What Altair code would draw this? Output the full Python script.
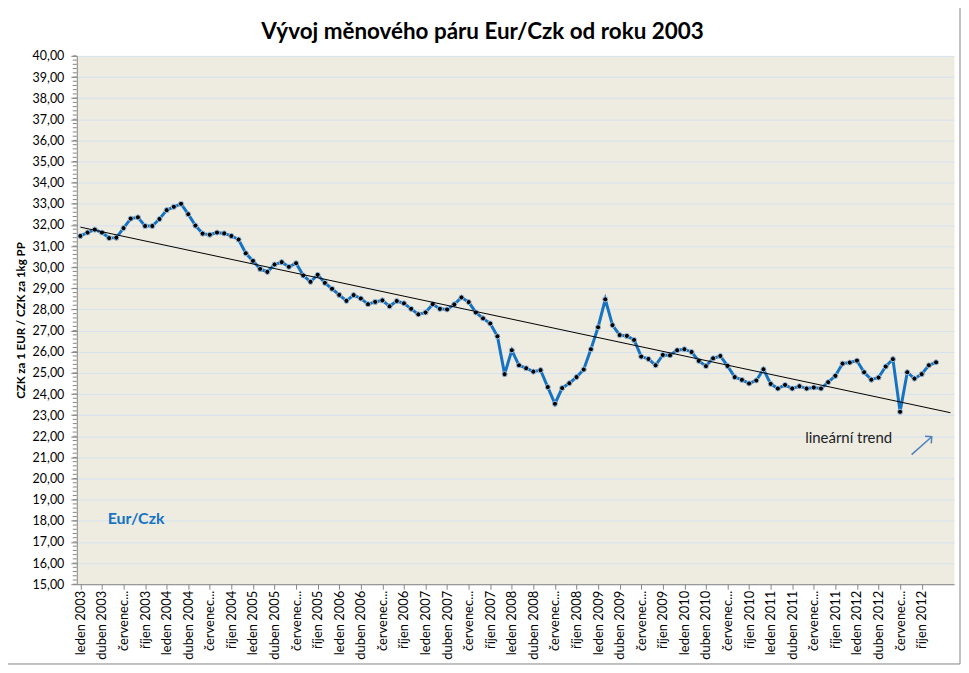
import json
import altair as alt
import pandas as pd

# ---- data ----
eur_czk = [
    31.48, 31.64, 31.78, 31.64, 31.38, 31.40, 31.85, 32.30, 32.36, 31.95, 31.95, 32.28,
    32.70, 32.86, 33.00, 32.51, 31.97, 31.59, 31.54, 31.64, 31.60, 31.48, 31.31, 30.66,
    30.30, 29.92, 29.78, 30.13, 30.24, 30.02, 30.19, 29.61, 29.31, 29.64, 29.26, 28.98,
    28.69, 28.41, 28.68, 28.52, 28.25, 28.36, 28.43, 28.15, 28.40, 28.29, 28.03, 27.77,
    27.86, 28.25, 28.03, 28.00, 28.24, 28.57, 28.35, 27.86, 27.58, 27.34, 26.73, 24.94,
    26.07, 25.36, 25.22, 25.06, 25.13, 24.33, 23.54, 24.28, 24.51, 24.80, 25.16, 26.12,
    27.16, 28.48, 27.26, 26.79, 26.75, 26.56, 25.77, 25.66, 25.36, 25.85, 25.83, 26.07,
    26.12, 25.99, 25.57, 25.32, 25.69, 25.80, 25.33, 24.80, 24.67, 24.50, 24.64, 25.17,
    24.48, 24.26, 24.43, 24.26, 24.37, 24.26, 24.31, 24.26, 24.56, 24.86, 25.44, 25.49,
    25.58, 25.03, 24.68, 24.78, 25.30, 25.65, 23.16, 25.03, 24.73, 24.94, 25.36, 25.50,
]

tick_labels = [
    "leden 2003", "duben 2003", "červenec...", "říjen 2003",
    "leden 2004", "duben 2004", "červenec...", "říjen 2004",
    "leden 2005", "duben 2005", "červenec...", "říjen 2005",
    "leden 2006", "duben 2006", "červenec...", "říjen 2006",
    "leden 2007", "duben 2007", "červenec...", "říjen 2007",
    "leden 2008", "duben 2008", "červenec...", "říjen 2008",
    "leden 2009", "duben 2009", "červenec...", "říjen 2009",
    "leden 2010", "duben 2010", "červenec...", "říjen 2010",
    "leden 2011", "duben 2011", "červenec...", "říjen 2011",
    "leden 2012", "duben 2012", "červenec...", "říjen 2012",
]
x_tick_values = [3 * k for k in range(len(tick_labels))]
y_tick_values = list(range(15, 41))
y_minor_ticks = [round(15 + 0.2 * k, 1) for k in range(126)]

title_text = "Vývoj měnového páru Eur/Czk od roku 2003"
y_title = "CZK za 1 EUR / CZK za 1kg PP"

annotations = pd.DataFrame({
    "i": [3.8, 100.8],
    "v": [18.1, 21.93],
    "label": ["Eur/Czk", "lineární trend"],
    "kind": ["series", "trend"],
})
arrow = pd.DataFrame({"i": [115.6], "v": [21.13], "i2": [118.4], "v2": [21.98]})

# ---- chart ----
FONT = "Lato"
W, H = 880, 530
df = pd.DataFrame({"i": list(range(len(eur_czk))), "v": eur_czk})

xscale = alt.Scale(domain=[-0.5, 121.5], nice=False, zero=False)
yscale = alt.Scale(domain=[15, 40], nice=False, zero=False)

label_expr = json.dumps(tick_labels, ensure_ascii=False) + "[round(datum.value/3)]"

x_axis = alt.Axis(
    values=x_tick_values, labelExpr=label_expr, labelAngle=270, labelAlign="right",
    labelBaseline="middle", labelFontSize=13, labelFont=FONT, labelColor="black",
    labelPadding=1, tickSize=5, tickColor="#868686", domainColor="#868686",
    grid=False, title=None, labelOverlap=False, labelFlush=False,
)
y_axis = alt.Axis(
    values=y_tick_values, labelExpr="replace(format(datum.value, '.2f'), '.', ',')",
    labelFontSize=12.5, labelFont=FONT, labelColor="black", labelPadding=7,
    labelOverlap=False, labelFlush=False,
    tickSize=6, tickColor="#868686", domainColor="#868686",
    grid=True, gridColor="#D5E2F0", gridWidth=1,
    title=y_title, titleFont=FONT, titleFontSize=11.5, titleFontWeight="bold",
    titleColor="black", titlePadding=6,
)

X = alt.X("i:Q", scale=xscale, axis=x_axis)
Y = alt.Y("v:Q", scale=yscale, axis=y_axis)

base = alt.Chart(df)

line = base.mark_line(color="#1673C2", strokeWidth=3).encode(x=X, y=Y)
points = base.mark_circle(size=26, color="black", opacity=1, stroke="#9DC3E6",
                          strokeWidth=1).encode(x=X, y=Y)
trend = base.transform_regression("i", "v", extent=[0, 121]).mark_line(
    color="black", strokeWidth=1).encode(x=X, y=Y)

minor = alt.Chart(pd.DataFrame({"v": y_minor_ticks})).mark_rule(
    color="#868686", strokeWidth=1).encode(
    y=Y, x=alt.value(-4), x2=alt.value(0),
)

ann = alt.Chart(annotations)
series_lbl = ann.transform_filter("datum.kind == 'series'").mark_text(
    align="left", baseline="middle", font=FONT, fontSize=16, fontWeight="bold",
    color="#1673C2").encode(x=X, y=Y, text="label:N")
trend_lbl = ann.transform_filter("datum.kind == 'trend'").mark_text(
    align="left", baseline="middle", font=FONT, fontSize=15, color="#222222").encode(
    x=X, y=Y, text="label:N")

arrow_line = alt.Chart(arrow).mark_rule(color="#4F81BD", strokeWidth=1.5).encode(
    x=X, y=Y, x2="i2:Q", y2="v2:Q")
arrow_head = alt.Chart(arrow).mark_point(
    shape="M-1,1L0,0L1,1", size=90, filled=False, color="#4F81BD", strokeWidth=1.5,
    angle=49, opacity=1).encode(
    x=alt.X("i2:Q", scale=xscale, axis=x_axis), y=alt.Y("v2:Q", scale=yscale, axis=y_axis))

frame = alt.Chart(pd.DataFrame({"a": [0]})).mark_rect(
    fill="white", fillOpacity=0, stroke="#868686", strokeWidth=1).encode(
    x=alt.value(-72), x2=alt.value(886), y=alt.value(-50), y2=alt.value(610))

title = alt.Chart(pd.DataFrame({"t": [title_text]})).mark_text(
    font=FONT, fontSize=22.5, fontWeight="bold", color="black", align="center",
    baseline="alphabetic").encode(
    text="t:N", x=alt.value(407), y=alt.value(-17))

chart = alt.layer(
    frame, minor, line, points, trend, series_lbl, trend_lbl, arrow_line, arrow_head, title
).properties(
    width=W, height=H,
    background="white",
    autosize=alt.AutoSizeParams(type="none"),
    padding={"left": 69, "top": 47, "right": 7, "bottom": 80},
).configure_view(
    fill="#EEECE1", stroke="transparent"
).configure_axis(
    labelOverlap=False
)

chart.save("out.html", embed_options={"renderer": "svg", "actions": False})
